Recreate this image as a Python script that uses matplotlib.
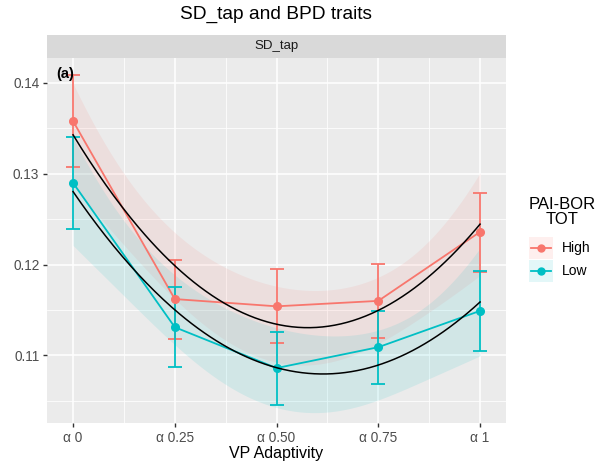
import numpy as np
import matplotlib
matplotlib.use("Agg")
import matplotlib.pyplot as plt
from matplotlib.patches import Rectangle
from matplotlib.lines import Line2D

plt.rcParams['font.family'] = ['Liberation Sans', 'DejaVu Sans']

# data
tick_labels = ["α 0", "α 0.25", "α 0.50", "α 0.75", "α 1"]
groups = ["High", "Low"]
colors = {"High": "#F8766D", "Low": "#00BFC4"}

high_mean = [0.1358, 0.1162, 0.1154, 0.1160, 0.1236]
high_lo = [0.1308, 0.1118, 0.1114, 0.1119, 0.1192]
high_hi = [0.1409, 0.1205, 0.1195, 0.1201, 0.1279]

low_mean = [0.1290, 0.1131, 0.1086, 0.1109, 0.1149]
low_lo = [0.1239, 0.1087, 0.1045, 0.1068, 0.1105]
low_hi = [0.1340, 0.1175, 0.1126, 0.1149, 0.1193]

# residual scale used for the smooth band of each group
band_scale = {"High": 0.0060, "Low": 0.0063}

series = {
    "High": (high_mean, high_lo, high_hi),
    "Low": (low_mean, low_lo, low_hi),
}


def quad_fit(x, y, xs):
    """Quadratic fit with a leverage-shaped band, like geom_smooth(poly 2)."""
    X = np.vander(x, 3)
    coef = np.linalg.lstsq(X, y, rcond=None)[0]
    Xs = np.vander(xs, 3)
    fit = Xs @ coef
    lev = np.einsum("ij,jk,ik->i", Xs, np.linalg.inv(X.T @ X), Xs)
    return fit, np.sqrt(lev)


def main():
    fig = plt.figure(figsize=(6.01, 4.66), dpi=100)
    W, H = 601, 466
    left, right, top, bottom = 47, 506, 58, 423
    ax = fig.add_axes([left / W, 1 - bottom / H, (right - left) / W, (bottom - top) / H])
    ax.set_facecolor("#EBEBEB")
    for s in ax.spines.values():
        s.set_visible(False)

    x = np.arange(len(tick_labels), dtype=float)
    xs = np.linspace(0, 4, 200)

    # ribbons
    fits = {}
    for g in groups:
        m = np.array(series[g][0])
        fit, lev = quad_fit(x, m, xs)
        fits[g] = fit
        hw = band_scale[g] * lev
        ax.fill_between(xs, fit - hw, fit + hw, color=colors[g], alpha=0.11, lw=0, zorder=2)

    for g in groups:
        m, lo, hi = series[g]
        ax.plot(x, m, color=colors[g], lw=1.3, zorder=3)
        ax.errorbar(x, m, yerr=[np.array(m) - np.array(lo), np.array(hi) - np.array(m)],
                    fmt="none", ecolor=colors[g], elinewidth=1.3, capsize=5,
                    capthick=1.3, zorder=3)
        ax.plot(x, m, "o", color=colors[g], ms=5.5, zorder=4)

    for g in groups:
        ax.plot(xs, fits[g], color="black", lw=1.1, zorder=5)

    ax.set_xlim(-0.256, 4.255)
    ax.set_ylim(0.10255, 0.14275)
    ax.set_xticks(x)
    ax.set_xticklabels(tick_labels)
    ax.set_xticks([0.5, 1.5, 2.5, 3.5], minor=True)
    ax.set_yticks([0.11, 0.12, 0.13, 0.14])
    ax.set_yticklabels(["0.11", "0.12", "0.13", "0.14"])
    ax.set_yticks([0.105, 0.115, 0.125, 0.135], minor=True)
    ax.grid(which="major", color="white", lw=1.1, zorder=0)
    ax.grid(which="minor", color="white", lw=0.55, zorder=0)
    ax.set_axisbelow(True)
    ax.tick_params(which="major", length=3, width=1, color="#333333",
                   labelcolor="#4D4D4D", labelsize=9.8, pad=2.5)
    ax.tick_params(which="minor", length=0)
    ax.set_xlabel("VP Adaptivity", fontsize=11.5, color="black", labelpad=1)

    ax.text(0.02, 0.975, "(a)", transform=ax.transAxes, fontsize=10.5,
            fontweight="bold", va="top", ha="left", zorder=6)

    # facet strip
    strip = fig.add_axes([left / W, 1 - top / H, (right - left) / W, 23 / H])
    strip.set_facecolor("#D9D9D9")
    strip.set_xticks([])
    strip.set_yticks([])
    for s in strip.spines.values():
        s.set_visible(False)
    strip.text(0.5, 0.5, "SD_tap", ha="center", va="center", fontsize=9.5,
               color="#1A1A1A", transform=strip.transAxes)

    fig.text(276 / W, 1 - 14 / H, "SD_tap and BPD traits", ha="center",
             va="center", fontsize=13.8)

    # legend
    fig.text(562 / W, 1 - 212 / H, "PAI-BOR\nTOT", ha="center", va="center",
             fontsize=12, linespacing=1.0)
    key_y = {"High": 248, "Low": 271}
    for g in groups:
        yc = key_y[g]
        fig.patches.append(Rectangle(((529) / W, 1 - (yc + 11) / H), 24 / W, 22 / H,
                                     transform=fig.transFigure, facecolor=colors[g],
                                     alpha=0.11, lw=0))
        fig.lines.append(Line2D([531 / W, 551 / W], [1 - yc / H, 1 - yc / H],
                                transform=fig.transFigure, color=colors[g], lw=1.3))
        fig.lines.append(Line2D([541 / W], [1 - yc / H], transform=fig.transFigure,
                                marker="o", ms=5, color=colors[g]))
        fig.text(562 / W, 1 - yc / H, g, ha="left", va="center", fontsize=10)

    fig.savefig("out.png", dpi=100)


if __name__ == "__main__":
    main()
